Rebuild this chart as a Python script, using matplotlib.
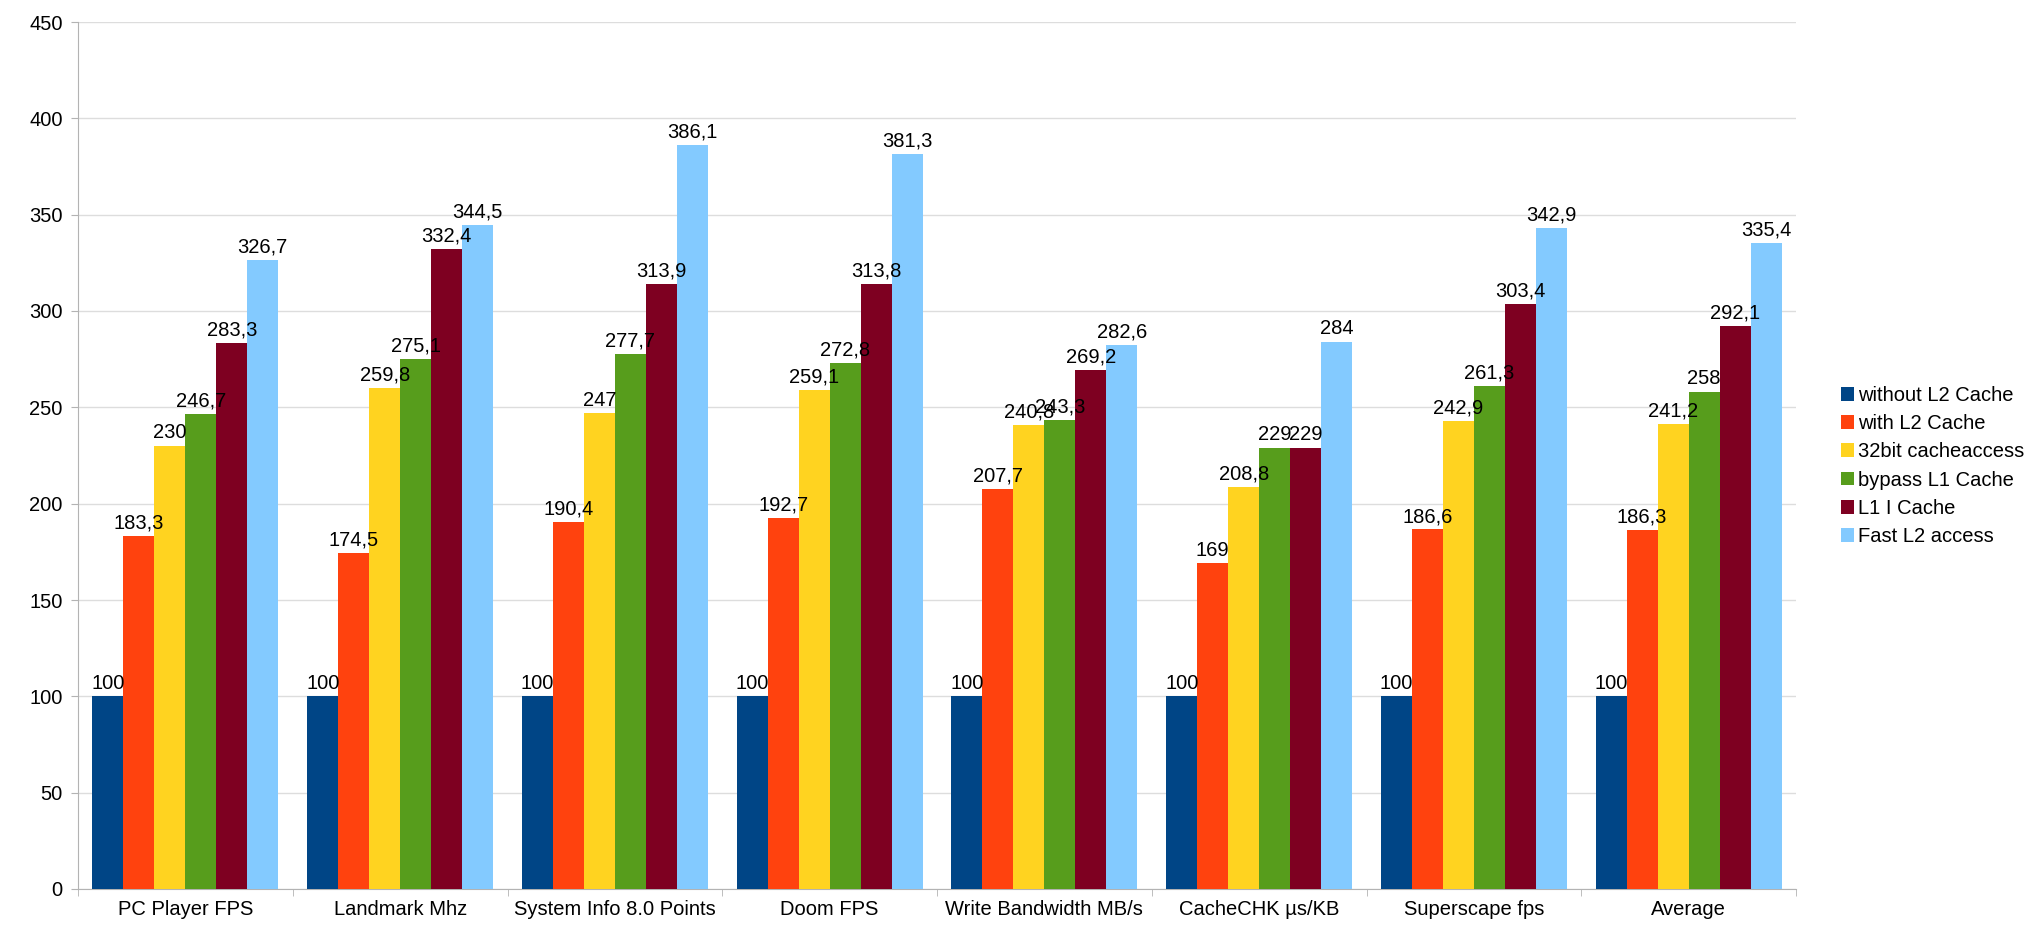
import matplotlib
matplotlib.use("Agg")
import matplotlib.pyplot as plt
import numpy as np

categories = ["PC Player FPS", "Landmark Mhz", "System Info 8.0 Points", "Doom FPS",
              "Write Bandwidth MB/s", "CacheCHK µs/KB", "Superscape fps", "Average"]
series_names = ["without L2 Cache", "with L2 Cache", "32bit cacheaccess",
                "bypass L1 Cache", "L1 I Cache", "Fast L2 access"]
without_l2 = [100, 100, 100, 100, 100, 100, 100, 100]
with_l2 = [183.3, 174.5, 190.4, 192.7, 207.7, 169, 186.6, 186.3]
bit32 = [230, 259.8, 247, 259.1, 240.8, 208.8, 242.9, 241.2]
bypass_l1 = [246.7, 275.1, 277.7, 272.8, 243.3, 229, 261.3, 258]
l1_i = [283.3, 332.4, 313.9, 313.8, 269.2, 229, 303.4, 292.1]
fast_l2 = [326.7, 344.5, 386.1, 381.3, 282.6, 284, 342.9, 335.4]
series = [without_l2, with_l2, bit32, bypass_l1, l1_i, fast_l2]
colors = ["#004586", "#ff420e", "#ffd320", "#579d1c", "#7e0021", "#83caff"]
yticks = [0, 50, 100, 150, 200, 250, 300, 350, 400, 450]

plt.rcParams['font.family'] = ['Liberation Sans', 'DejaVu Sans']
FS = 14.5

fig = plt.figure(figsize=(20.36, 9.26), dpi=100)
ax = fig.add_axes([78/2036, 1-889/926, (1796-78)/2036, (889-22)/926])

n = len(series)
bw = 0.865 / n
x = np.arange(len(categories))
for i, (vals, c, name) in enumerate(zip(series, colors, series_names)):
    pos = x - 0.865/2 + bw*(i+0.5)
    ax.bar(pos, vals, width=bw, color=c, label=name, zorder=3, linewidth=0)
    for p, v in zip(pos, vals):
        s = ("%g" % v).replace(".", ",")
        ax.annotate(s, (p, v), xytext=(0, 2.5), textcoords="offset points",
                    ha="center", va="bottom", fontsize=FS, zorder=4)

ax.set_xlim(-0.5, len(categories)-0.5)
ax.set_ylim(0, 450)
ax.set_yticks(yticks)
ax.set_yticklabels([str(t) for t in yticks], fontsize=FS)
ax.set_xticks(x)
ax.set_xticklabels(categories, fontsize=FS)
ax.set_xticks(np.arange(len(categories)+1) - 0.5, minor=True)
ax.tick_params(axis='x', which='major', length=0, pad=8)
ax.tick_params(axis='x', which='minor', length=5, color="#b3b3b3")
ax.tick_params(axis='y', length=5, color="#b3b3b3", pad=6)
ax.grid(axis='y', color="#dddddd", linewidth=1, zorder=0)
for side in ["top", "right"]:
    ax.spines[side].set_visible(False)
for side in ["left", "bottom"]:
    ax.spines[side].set_color("#b3b3b3")

leg = ax.legend(loc="center left", bbox_to_anchor=(1.026, 0.488), frameon=False,
                fontsize=FS, handlelength=0.67, handleheight=0.67, handletextpad=0.2,
                labelspacing=0.46, borderaxespad=0, borderpad=0)

fig.savefig("out.png", dpi=100)
